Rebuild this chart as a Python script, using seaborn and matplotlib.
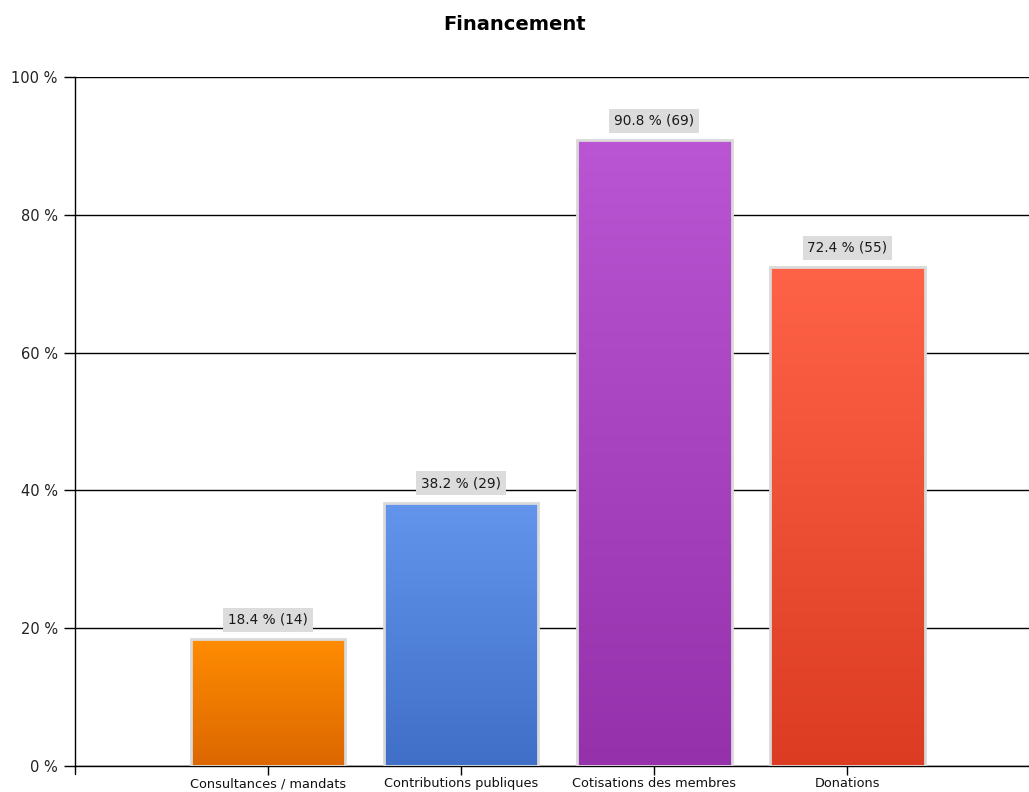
import numpy as np
import pandas as pd
import matplotlib
matplotlib.use("Agg")
import matplotlib.pyplot as plt
from matplotlib.colors import LinearSegmentedColormap
import seaborn as sns

categories = ["Consultances / mandats", "Contributions publiques",
              "Cotisations des membres", "Donations"]
percentages = [18.4, 38.2, 90.8, 72.4]
counts = [14, 29, 69, 55]
top_colors = ["#FF8C00", "#6495ED", "#BA55D3", "#FF6347"]
bottom_colors = ["#DC6700", "#3F6FC6", "#9531AB", "#DB3C22"]
y_ticks = [0, 20, 40, 60, 80, 100]

sns.set_theme(style="white")
plt.rcParams["font.family"] = ["DejaVu Sans"]

df = pd.DataFrame({"categorie": categories, "pct": percentages})

fig = plt.figure(figsize=(10.29, 7.92), dpi=100)
ax = fig.add_axes([75 / 1029, 1 - 766 / 792, 1 - 75 / 1029, (766 - 77) / 792])

sns.barplot(data=df, x="categorie", y="pct", ax=ax, width=0.8,
            color="white", saturation=1, zorder=3)

ax.set_xlim(-1, 3.94)
ax.set_ylim(0, 100)

# vertical gradient fill for each bar, clipped to the bar rectangle
grad = np.linspace(1, 0, 256).reshape(-1, 1)
for patch, ctop, cbot in zip(ax.patches, top_colors, bottom_colors):
    x0, y0 = patch.get_x(), patch.get_y()
    w, h = patch.get_width(), patch.get_height()
    cmap = LinearSegmentedColormap.from_list("g", [cbot, ctop])
    im = ax.imshow(grad, cmap=cmap, aspect="auto", extent=[x0, x0 + w, y0, y0 + h],
                   origin="upper", zorder=3.5, vmin=0, vmax=1)
    im.set_clip_path(patch)
    patch.set_facecolor("none")
    patch.set_edgecolor("#D9D9D9")
    patch.set_linewidth(2.0)
    patch.set_zorder(4)

# value labels above bars
for i, (p, c) in enumerate(zip(percentages, counts)):
    ax.annotate(f"{p:.1f} % ({c})", xy=(i, p), xytext=(0, 9), textcoords="offset points",
                ha="center", va="bottom", fontsize=9.8, color="#1a1a1a", zorder=6,
                bbox=dict(boxstyle="square,pad=0.36", fc="#DCDCDC", ec="none"))

ax.set_yticks(y_ticks)
ax.set_yticklabels([f"{t} %" for t in y_ticks], fontsize=10.5, color="#222222")
ax.set_xticks(range(len(categories)))
ax.set_xticklabels(categories, fontsize=9.3, color="#111111")
ax.set_xlabel("")
ax.set_ylabel("")

ax.yaxis.grid(True, color="#000000", linewidth=1.0, zorder=0)
ax.xaxis.grid(False)
ax.set_axisbelow(True)

for side in ["top", "right"]:
    ax.spines[side].set_visible(False)
for side in ["left", "bottom"]:
    ax.spines[side].set_color("#000000")
    ax.spines[side].set_linewidth(1.0)

ax.tick_params(axis="y", which="both", left=True, length=8, width=1, color="#000000", pad=4.5)
ax.tick_params(axis="x", which="both", bottom=True, length=6.5, width=1, color="#000000", pad=1.5)

# extra tick at the left end of the category axis
ax.plot([-1, -1], [0, -1.1], color="#000000", lw=1, clip_on=False, zorder=5)

fig.suptitle("Financement", fontsize=14, fontweight="bold", color="#000000",
             y=1 - 24 / 792, va="center")

fig.savefig("out.png", dpi=100)
